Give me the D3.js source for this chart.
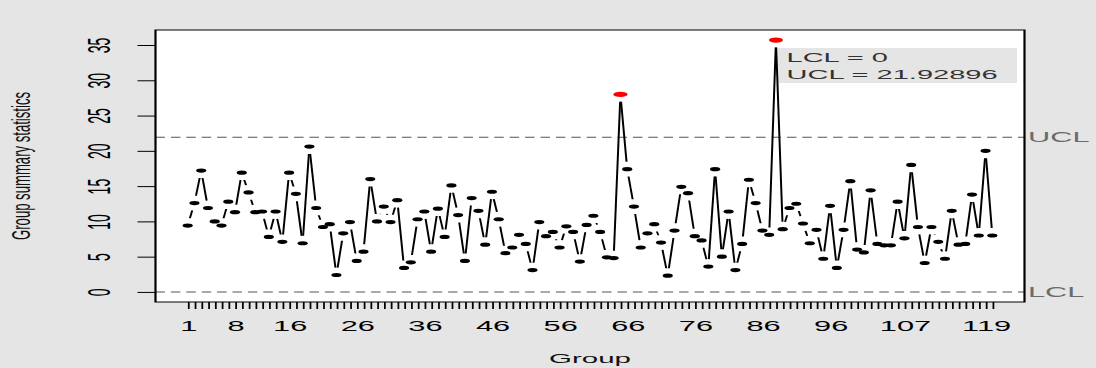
<!DOCTYPE html>
<html>
<head>
<meta charset="utf-8">
<script src="https://cdn.jsdelivr.net/npm/d3@7"></script>
<style>
  html, body { margin: 0; padding: 0; background: #e5e5e5; }
  svg { display: block; font-family: "Liberation Sans", Arial, sans-serif; }
</style>
</head>
<body>
<svg id="chart" width="1096" height="368"></svg>
<script>
// ---- data ----
const values = [
  9.4, 12.6, 17.2, 11.9, 10.0, 9.4, 12.8, 11.3, 16.9, 14.1,
  11.3, 11.4, 7.8, 11.4, 7.1, 16.9, 13.9, 6.9, 20.6, 11.9,
  9.2, 9.6, 2.4, 8.3, 9.9, 4.4, 5.7, 16.0, 10.0, 12.1,
  9.9, 13.0, 3.4, 4.2, 10.3, 11.4, 5.7, 11.8, 7.8, 15.1,
  10.9, 4.4, 13.3, 11.5, 6.7, 14.2, 10.3, 5.5, 6.3, 8.1,
  6.8, 3.1, 9.9, 7.9, 8.5, 6.3, 9.3, 8.5, 4.3, 9.5,
  10.8, 8.5, 4.9, 4.8, 28.0, 17.4, 12.1, 6.3, 8.3, 9.6,
  7.0, 2.3, 8.7, 14.9, 14.0, 7.9, 7.3, 3.6, 17.4, 5.0,
  11.4, 3.1, 6.8, 15.9, 12.6, 8.7, 8.1, 35.7, 8.9, 11.9,
  12.5, 9.7, 6.9, 8.8, 4.7, 12.2, 3.4, 8.8, 15.7, 6.0,
  5.6, 14.4, 6.8, 6.6, 6.6, 12.8, 7.6, 18.0, 9.2, 4.1,
  9.2, 7.1, 4.7, 11.5, 6.7, 6.8, 13.8, 8.0, 20.0, 8.0
];
const groups = d3.range(1, values.length + 1);
const xTickLabels = [1, 8, 16, 26, 36, 46, 56, 66, 76, 86, 96, 107, 119];
const yTicks = [0, 5, 10, 15, 20, 25, 30, 35];
const LCL = 0;
const UCL = 21.92896;
const statsText = ["LCL = 0", "UCL = 21.92896"];
const xTitle = "Group";
const yTitle = "Group summary statistics";

// ---- layout (the picture is stretched horizontally by S) ----
const S = 2.2;
const svg = d3.select("#chart");
svg.append("rect").attr("width", 1096).attr("height", 368).attr("fill", "#e5e5e5");
const g = svg.append("g").attr("transform", `scale(${S},1)`);

const n = values.length;
const xPad = 0.04 * (n - 1);
const yMax = d3.max(values), yMin = Math.min(LCL, d3.min(values));
const yPad = 0.04 * (yMax - yMin);
const x = d3.scaleLinear().domain([1 - xPad, n + xPad]).range([155.5 / S, 1024.5 / S]);
const y = d3.scaleLinear().domain([yMin - yPad, yMax + yPad]).range([302, 30]);

const X0 = x.range()[0], X1 = x.range()[1];
const Y0 = y.range()[1], Y1 = y.range()[0];

// plot area
g.append("rect").attr("x", X0).attr("y", Y0).attr("width", X1 - X0).attr("height", Y1 - Y0)
  .attr("fill", "#fff");

// stats box
const sb = g.append("g");
sb.append("rect").attr("x", 778 / S).attr("y", 48).attr("width", (1017 - 778) / S).attr("height", 35)
  .attr("fill", "#e5e5e5");
statsText.forEach((t, i) => {
  sb.append("text").attr("x", 786.5 / S).attr("y", 62.3 + i * 16.7)
    .attr("font-size", 13.2).attr("fill", "#333").text(t);
});

// control limit lines
[LCL, UCL].forEach(v => {
  g.append("line").attr("x1", X0).attr("x2", X1).attr("y1", y(v)).attr("y2", y(v))
    .attr("stroke", "#555").attr("stroke-width", 1).attr("stroke-dasharray", "4.3,2.7");
});
g.append("text").attr("x", 1028 / S).attr("y", y(UCL) + 5.2).attr("font-size", 14)
  .attr("fill", "#6b6b6b").text("UCL");
g.append("text").attr("x", 1028 / S).attr("y", y(LCL) + 5.2).attr("font-size", 14)
  .attr("fill", "#6b6b6b").text("LCL");

// connecting segments with gaps (type = "b")
const gap = 7.4;
const pts = values.map((v, i) => [x(groups[i]), y(v)]);
const segs = [];
for (let i = 0; i < pts.length - 1; i++) {
  const [xa, ya] = pts[i], [xb, yb] = pts[i + 1];
  const dx = xb - xa, dy = yb - ya, L = Math.hypot(dx, dy);
  if (L > 2 * gap) {
    const ux = dx / L, uy = dy / L;
    segs.push([xa + ux * gap, ya + uy * gap, xb - ux * gap, yb - uy * gap]);
  }
}
g.append("g").selectAll("line").data(segs).join("line")
  .attr("x1", d => d[0]).attr("y1", d => d[1]).attr("x2", d => d[2]).attr("y2", d => d[3])
  .attr("stroke", "#000").attr("stroke-width", 0.9);

// points
g.append("g").selectAll("ellipse").data(values).join("ellipse")
  .attr("cx", (d, i) => x(groups[i])).attr("cy", d => y(d))
  .attr("rx", d => d > UCL || d < LCL ? 3.2 : 2.3)
  .attr("ry", d => d > UCL || d < LCL ? 2.6 : 2.1)
  .attr("fill", d => d > UCL || d < LCL ? "#ff0000" : "#000");

// box
g.append("rect").attr("x", X0).attr("y", Y0).attr("width", X1 - X0).attr("height", Y1 - Y0)
  .attr("fill", "none").attr("stroke", "#000").attr("stroke-width", 1);

// x axis
const labelSet = new Set(xTickLabels);
const xAxis = g.append("g").attr("transform", `translate(0,${Y1})`)
  .call(d3.axisBottom(x).tickValues(groups).tickSize(7).tickPadding(12)
    .tickFormat(d => labelSet.has(d) ? String(d) : ""));
xAxis.select(".domain").remove();
xAxis.selectAll(".tick line").attr("stroke", "#000").attr("stroke-width", 0.8);
xAxis.selectAll(".tick text").attr("font-size", 14).attr("font-family", "Liberation Sans, Arial, sans-serif")
  .attr("fill", "#000").attr("dy", 0).attr("y", 29.5);

// y axis
const yAxis = g.append("g").attr("transform", `translate(${X0},0)`)
  .call(d3.axisLeft(y).tickValues(yTicks).tickSize(18 / S));
yAxis.select(".domain").remove();
yAxis.selectAll(".tick line").attr("stroke", "#000").attr("stroke-width", 1);
yAxis.selectAll(".tick text")
  .attr("font-size", 14).attr("font-family", "Liberation Sans, Arial, sans-serif").attr("fill", "#000")
  .attr("text-anchor", "middle").attr("dy", 0).attr("x", 0).attr("y", -(X0 - 110 / S))
  .attr("transform", "rotate(-90)");

// titles
g.append("text").attr("x", 590 / S).attr("y", 363).attr("text-anchor", "middle")
  .attr("font-size", 13.4).attr("fill", "#111").text(xTitle);
g.append("text").attr("transform", `translate(${30 / S},${(Y0 + Y1) / 2}) rotate(-90)`)
  .attr("text-anchor", "middle").attr("font-size", 11.5)
  .attr("textLength", 148).attr("lengthAdjust", "spacingAndGlyphs")
  .attr("fill", "#111").text(yTitle);
</script>
</body>
</html>
